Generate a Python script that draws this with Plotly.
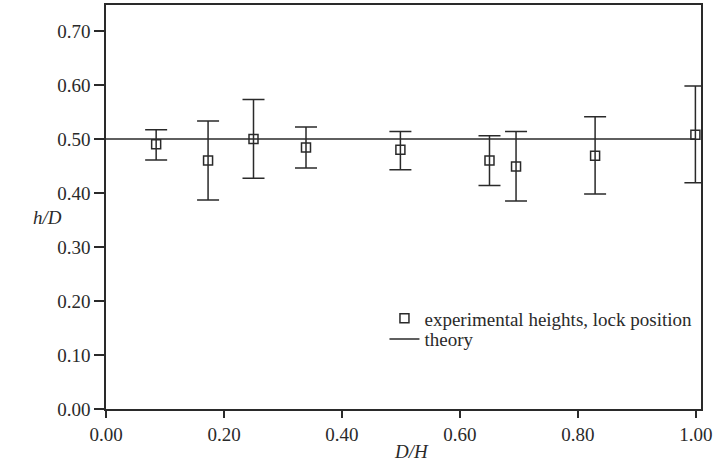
import plotly.graph_objects as go

# Data
dh = [0.085, 0.173, 0.25, 0.339, 0.499, 0.65, 0.695, 0.829, 0.999]
hd = [0.49, 0.46, 0.50, 0.484, 0.48, 0.46, 0.449, 0.469, 0.508]
err_top = [0.517, 0.533, 0.573, 0.522, 0.514, 0.506, 0.514, 0.541, 0.598]
err_bot = [0.461, 0.387, 0.427, 0.446, 0.443, 0.414, 0.385, 0.398, 0.419]
theory_x = [0.0, 1.0]
theory_y = [0.5, 0.5]
x_ticks = [0.0, 0.2, 0.4, 0.6, 0.8, 1.0]
y_ticks = [0.0, 0.1, 0.2, 0.3, 0.4, 0.5, 0.6, 0.7]

plus = [t - v for t, v in zip(err_top, hd)]
minus = [v - b for v, b in zip(hd, err_bot)]

INK = "#2a2a2a"
FONT = "Liberation Serif"
FS = 19

fig = go.Figure()
fig.add_trace(go.Scatter(
    x=dh, y=hd, mode="markers", name="experimental heights, lock position",
    legend="legend",
    marker=dict(symbol="square-open", size=9, color=INK, line=dict(width=1.5, color=INK)),
    error_y=dict(type="data", symmetric=False, array=plus, arrayminus=minus,
                 color=INK, thickness=1.5, width=11),
))
fig.add_trace(go.Scatter(
    x=theory_x, y=theory_y, mode="lines", name="theory",
    legend="legend2",
    line=dict(color=INK, width=1.5),
))

axis_common = dict(
    showgrid=False, zeroline=False, showline=True, linecolor=INK, linewidth=1.5,
    mirror=True, ticks="outside", tickcolor=INK, tickwidth=1.5,
    tickfont=dict(family=FONT, size=FS, color=INK),
)
fig.update_xaxes(range=[0, 1.0085], tickvals=x_ticks, ticktext=[f"{v:.2f}" for v in x_ticks],
                 ticklen=7, **axis_common)
fig.update_yaxes(range=[0, 0.748], tickvals=y_ticks, ticktext=[f"{v:.2f}" for v in y_ticks],
                 ticklen=10, **axis_common)

fig.add_annotation(text="<i>h/D</i>", xref="paper", yref="paper", x=-0.0975, y=0.473,
                   showarrow=False, font=dict(family=FONT, size=FS, color=INK),
                   xanchor="center", yanchor="middle")
fig.add_annotation(text="<i>D/H</i>", xref="paper", yref="paper", x=0.514, y=-0.106,
                   showarrow=False, font=dict(family=FONT, size=FS, color=INK),
                   xanchor="center", yanchor="middle")

leg_common = dict(xanchor="left", yanchor="middle", bgcolor="rgba(0,0,0,0)",
                  font=dict(family=FONT, size=FS, color=INK))
fig.update_layout(
    width=717, height=466,
    margin=dict(l=106, r=16, t=3, b=57),
    paper_bgcolor="white", plot_bgcolor="white",
    font=dict(family=FONT, size=FS, color=INK),
    legend=dict(x=0.468, y=0.224, **leg_common),
    legend2=dict(x=0.468, y=0.173, **leg_common),
    showlegend=True,
)

fig.write_html("out.html", config={"displayModeBar": False},
               post_script="document.body.style.margin='0';document.body.style.padding='0';")
